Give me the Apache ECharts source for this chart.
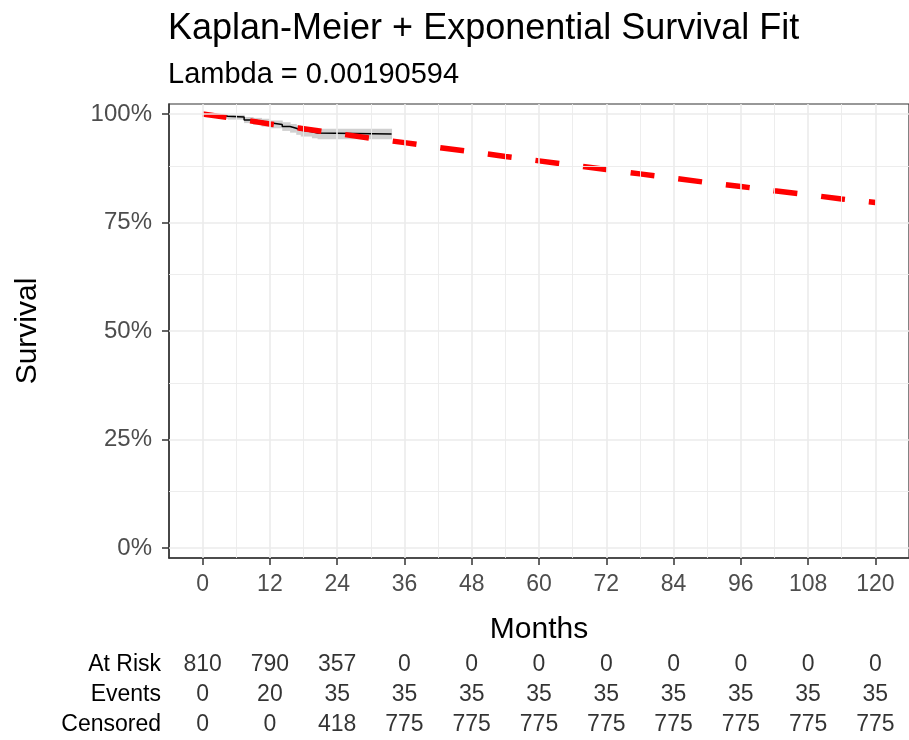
<!DOCTYPE html>
<html>
<head>
<meta charset="utf-8">
<script src="https://cdn.jsdelivr.net/npm/echarts@6/dist/echarts.min.js"></script>
<style>
  html, body { margin: 0; padding: 0; background: #ffffff; }
  #chart { width: 909px; height: 740px; }
</style>
</head>
<body>
<div id="chart"></div>
<script>
// Axis breaks
const monthTicks = [0, 12, 24, 36, 48, 60, 72, 84, 96, 108, 120];
const monthMinor = [6, 18, 30, 42, 54, 66, 78, 90, 102, 114];
const survTicks = [0, 0.25, 0.5, 0.75, 1];
const survMinor = [0.125, 0.375, 0.625, 0.875];

// Kaplan-Meier estimate (right-continuous steps) and its confidence limits
const kmTime  = [0, 1.5, 3, 4.5, 7.4, 9, 10.5, 12, 14.2, 15.6, 16.7, 17.5, 19.5, 20.5, 33.7];
const kmSurv  = [1.000, 0.9975, 0.995, 0.993, 0.986, 0.983, 0.980, 0.976, 0.971, 0.967, 0.963, 0.959, 0.956, 0.954, 0.954];
const kmLower = [1.000, 0.993, 0.989, 0.987, 0.979, 0.975, 0.971, 0.967, 0.961, 0.957, 0.952, 0.948, 0.944, 0.942, 0.942];
const kmUpper = [1.000, 1.000, 0.999, 0.998, 0.993, 0.991, 0.989, 0.985, 0.981, 0.977, 0.974, 0.970, 0.968, 0.966, 0.966];

// Fitted exponential survival curve
const fitTime = [0, 6, 12, 18, 24, 30, 36, 42, 48, 54, 60, 66, 72, 78, 84, 90, 96, 102, 108, 114, 120];
const fitSurv = [1.000, 0.989, 0.977, 0.966, 0.955, 0.944, 0.934, 0.923, 0.913, 0.902, 0.892,
                 0.882, 0.872, 0.862, 0.852, 0.842, 0.833, 0.823, 0.814, 0.804, 0.796];

// Numbers-at-risk table
const riskRows = ['At Risk', 'Events', 'Censored'];
const atRisk   = [810, 790, 357, 0, 0, 0, 0, 0, 0, 0, 0];
const events   = [0, 20, 35, 35, 35, 35, 35, 35, 35, 35, 35];
const censored = [0, 0, 418, 775, 775, 775, 775, 775, 775, 775, 775];

const FONT = "'Liberation Sans', Arial, sans-serif";
const NARROW = "'Liberation Sans Narrow', 'Arial Narrow', 'Liberation Sans', sans-serif";
const GRID_COLOR = '#EBEBEB';

const zip = (xs, ys) => xs.map((x, i) => [x, ys[i]]);

// one rectangle per step of the confidence band: [start, lower, upper, end]
const bandSteps = kmTime.slice(0, -1).map((t, i) => [t, kmLower[i], kmUpper[i], kmTime[i + 1]]);

const gridLines = [
  ...monthTicks.map(v => ({ xAxis: v, lineStyle: { width: 1.6 } })),
  ...monthMinor.map(v => ({ xAxis: v, lineStyle: { width: 0.9 } })),
  ...survTicks.map(v => ({ yAxis: v, lineStyle: { width: 1.6 } })),
  ...survMinor.map(v => ({ yAxis: v, lineStyle: { width: 0.9 } }))
];

const tableRow = (name, values) => ({
  type: 'scatter',
  xAxisIndex: 1,
  yAxisIndex: 1,
  symbolSize: 0,
  silent: true,
  data: monthTicks.map((m, i) => [m, name, values[i]]),
  label: {
    show: true,
    position: 'inside',
    formatter: p => String(p.value[2]),
    color: '#000000',
    fontFamily: NARROW,
    fontSize: 23
  }
});

const chart = echarts.init(document.getElementById('chart'), null, { renderer: 'canvas' });

chart.setOption({
  animation: false,
  backgroundColor: '#ffffff',
  title: {
    text: 'Kaplan-Meier + Exponential Survival Fit',
    subtext: 'Lambda = 0.00190594',
    left: 163,
    top: 6,
    itemGap: 13,
    textStyle: { fontFamily: FONT, fontSize: 36, fontWeight: 'normal', color: '#000000' },
    subtextStyle: { fontFamily: FONT, fontSize: 29, color: '#000000' }
  },
  grid: [
    { left: 169, top: 104, width: 752, height: 454, show: true, borderColor: '#333333', borderWidth: 1.2, backgroundColor: 'transparent' },
    { left: 169, top: 650, width: 752, height: 90 }
  ],
  xAxis: [
    {
      type: 'value', gridIndex: 0, min: -6, max: 126,
      name: 'Months', nameLocation: 'middle', nameGap: 57,
      nameTextStyle: { fontFamily: FONT, fontSize: 30, color: '#000000' },
      axisLine: { show: true, onZero: false, lineStyle: { color: '#333333', width: 1.5 } },
      axisTick: { show: true, length: 7, lineStyle: { color: '#333333', width: 1.5 }, customValues: monthTicks },
      axisLabel: { customValues: monthTicks, margin: 15, fontFamily: FONT, fontSize: 23, color: '#4D4D4D' },
      splitLine: { show: false }
    },
    {
      type: 'value', gridIndex: 1, min: -6, max: 126, show: false
    }
  ],
  yAxis: [
    {
      type: 'value', gridIndex: 0, min: -0.023, max: 1.023,
      name: 'Survival', nameLocation: 'middle', nameGap: 126, nameRotate: 90,
      nameTextStyle: { fontFamily: FONT, fontSize: 30, color: '#000000' },
      axisLine: { show: true, onZero: false, lineStyle: { color: '#333333', width: 1.5 } },
      axisTick: { show: true, length: 7, lineStyle: { color: '#333333', width: 1.5 }, customValues: survTicks },
      axisLabel: {
        customValues: survTicks, margin: 17, fontFamily: FONT, fontSize: 24, color: '#4D4D4D',
        formatter: v => Math.round(v * 100) + '%'
      },
      splitLine: { show: false }
    },
    {
      type: 'category', gridIndex: 1, data: riskRows, inverse: true,
      axisLine: { show: false }, axisTick: { show: false },
      axisLabel: { interval: 0, margin: 8, fontFamily: NARROW, fontSize: 23, color: '#000000' }
    }
  ],
  series: [
    {
      // panel grid lines
      type: 'line', xAxisIndex: 0, yAxisIndex: 0, z: 1, silent: true,
      data: [[0, 1]], symbol: 'none', lineStyle: { opacity: 0 },
      markLine: {
        silent: true, symbol: ['none', 'none'], label: { show: false },
        lineStyle: { color: GRID_COLOR, type: 'solid' },
        emphasis: { disabled: true },
        data: gridLines
      }
    },
    {
      // confidence band of the Kaplan-Meier estimate
      type: 'custom', name: 'ci', z: 2, silent: true,
      data: bandSteps,
      encode: { x: [0, 3], y: [1, 2] },
      renderItem: (params, api) => {
        const p1 = api.coord([api.value(0), api.value(2)]);
        const p2 = api.coord([api.value(3), api.value(1)]);
        return {
          type: 'rect',
          shape: { x: p1[0], y: p1[1], width: p2[0] - p1[0] + 0.5, height: p2[1] - p1[1] },
          style: { fill: '#D0D0D0' }
        };
      }
    },
    {
      type: 'line', name: 'Kaplan-Meier', step: 'end', z: 3, silent: true,
      data: zip(kmTime, kmSurv), symbol: 'none',
      lineStyle: { color: '#000000', width: 1.5 }
    },
    {
      type: 'line', name: 'Exponential', z: 4, silent: true,
      data: zip(fitTime, fitSurv), symbol: 'none',
      lineStyle: { color: '#FF0000', width: 5.5, type: [24, 24], cap: 'butt' }
    },
    tableRow('At Risk', atRisk),
    tableRow('Events', events),
    tableRow('Censored', censored)
  ]
});
</script>
</body>
</html>
